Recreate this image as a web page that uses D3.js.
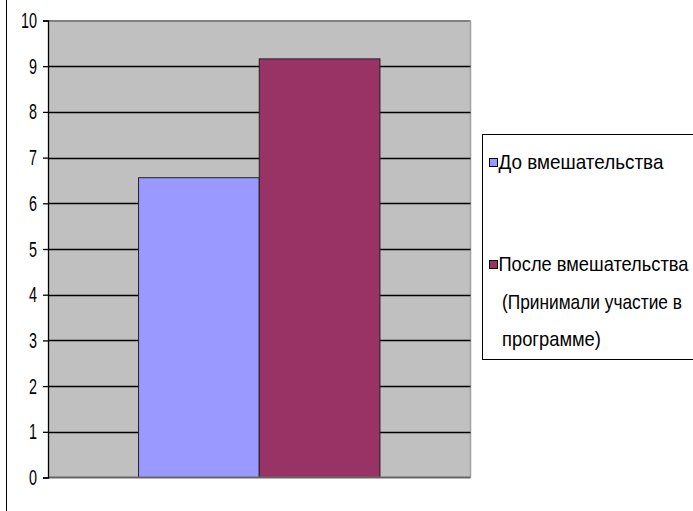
<!DOCTYPE html>
<html><head><meta charset="utf-8">
<script src="https://cdn.jsdelivr.net/npm/d3@7"></script>
<style>
html,body{margin:0;padding:0;background:#fff;}
svg{display:block;}
text{font-family:"Liberation Sans Narrow","Arial Narrow","Liberation Sans",Arial,sans-serif;fill:#000;}
</style></head>
<body>
<svg id="c" width="693" height="511"></svg>
<script>
const categories = ["Группа"];
const seriesNames = ["До вмешательства", "После вмешательства (Принимали участие в программе)"];
const legendLines = [["До вмешательства"], ["После вмешательства", "(Принимали участие в", "программе)"]];
const seriesValues = [6.56, 9.16];
const seriesColors = ["#9999ff", "#993366"];
const yTicks = [0,1,2,3,4,5,6,7,8,9,10];

const svg = d3.select("#c");
const plot = {x0: 48, x1: 470.5, y0: 20.5, y1: 477.5};

// outer border (left edge visible)
svg.append("line").attr("x1",6.5).attr("x2",6.5).attr("y1",0).attr("y2",511)
  .attr("stroke","#000").attr("stroke-width",1);

const y = d3.scaleLinear().domain([0,10]).range([plot.y1, plot.y0]);
const x0 = d3.scaleBand().domain(categories).range([plot.x0, plot.x1]);
const catW = x0.bandwidth();
const groupW = catW / 1.75; // gap width 75%
const x1 = d3.scaleBand().domain(d3.range(seriesValues.length))
  .range([x0(categories[0]) + (catW - groupW)/2, x0(categories[0]) + (catW + groupW)/2]);

// plot background
svg.append("rect").attr("x",plot.x0).attr("y",plot.y0)
  .attr("width",plot.x1-plot.x0).attr("height",plot.y1-plot.y0).attr("fill","#c0c0c0");
svg.append("line").attr("x1",plot.x0).attr("x2",plot.x1).attr("y1",plot.y0+0.5).attr("y2",plot.y0+0.5)
  .attr("stroke","#808080").attr("stroke-width",2);
svg.append("line").attr("x1",plot.x1).attr("x2",plot.x1).attr("y1",plot.y0).attr("y2",plot.y1)
  .attr("stroke","#a0a0a0").attr("stroke-width",1.5);

// gridlines
svg.append("g").selectAll("line").data(yTicks.filter(d=>d>0 && d<10)).join("line")
  .attr("x1",plot.x0).attr("x2",plot.x1)
  .attr("y1",d=>Math.round(y(d))+0.5).attr("y2",d=>Math.round(y(d))+0.5)
  .attr("stroke","#000").attr("stroke-width",1.3);

// bars
svg.append("g").selectAll("rect").data(seriesValues).join("rect")
  .attr("x",(d,i)=>x1(i)).attr("width",x1.bandwidth())
  .attr("y",d=>y(d)).attr("height",d=>plot.y1-y(d))
  .attr("fill",(d,i)=>seriesColors[i])
  .attr("stroke","#222").attr("stroke-width",1);

// bottom axis line
svg.append("line").attr("x1",plot.x0).attr("x2",plot.x1).attr("y1",plot.y1).attr("y2",plot.y1)
  .attr("stroke","#666").attr("stroke-width",2);

// y axis
const yAxis = d3.axisLeft(y).tickValues(yTicks).tickSize(5).tickPadding(6).tickFormat(d3.format("d"));
const ga = svg.append("g").attr("transform",`translate(${plot.x0},0)`).call(yAxis);
ga.select(".domain").attr("stroke","#000").attr("stroke-width",1.3);
ga.selectAll(".tick line").attr("stroke","#000").attr("stroke-width",1.3);
ga.selectAll(".tick text").attr("font-size",22).attr("font-family",null).each(function(){
  const t = d3.select(this);
  const w = this.getComputedTextLength();
  const target = t.text().length * 8;
  const sx = Math.min(1, target / w);
  const xx = +t.attr("x");
  t.attr("x", xx / sx).attr("transform", `scale(${sx},1)`);
});

// legend
const lg = svg.append("g");
lg.append("rect").attr("x",482.5).attr("y",134.5).attr("width",220).attr("height",225)
  .attr("fill","#fff").attr("stroke","#000").attr("stroke-width",1);
const entryY = [169, 271];
const lineH = 37.5;
const lineWidths = [[165],[190,180,99]];
legendLines.forEach((lines,i)=>{
  lg.append("rect").attr("x",489.5).attr("y",entryY[i]-10.5).attr("width",8).attr("height",8)
    .attr("fill",seriesColors[i]).attr("stroke","#000").attr("stroke-width",1);
  lines.forEach((t,j)=>{
    const tx = lg.append("text").attr("font-size",21).text(t);
    const w = tx.node().getComputedTextLength();
    const sx = lineWidths[i][j] / w;
    tx.attr("transform", `translate(${j===0?498.5:502},${entryY[i]+j*lineH}) scale(${sx},1)`);
  });
});
</script>
</body></html>
